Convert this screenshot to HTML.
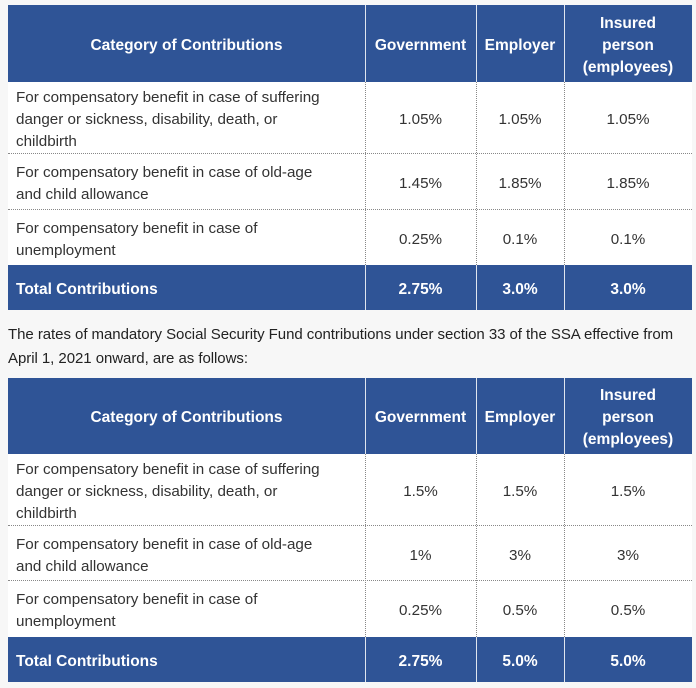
<!DOCTYPE html>
<html><head><meta charset="utf-8">
<style>
html,body{margin:0;padding:0;}
body{width:696px;height:688px;background:#f7f7f7;position:relative;overflow:hidden;font-family:"Liberation Sans",Arial,sans-serif;color:#333;}
.c{position:absolute;display:flex;align-items:center;justify-content:center;text-align:center;box-sizing:border-box;font-size:15px;line-height:22px;padding-top:4px;}
.h{background:#2f5496;color:#fff;font-weight:bold;font-size:15.5px;}
.b{background:#fff;color:#333;font-size:15.2px;}
.l{justify-content:flex-start;text-align:left;padding-left:8px;}
.vs{position:absolute;width:1px;background:#dfe5ef;}
.vd{position:absolute;width:0;border-left:1px dotted #888;}
.hd{position:absolute;height:0;border-top:1px dotted #888;}
p{position:absolute;left:8px;top:323px;margin:0;font-size:15px;line-height:24px;color:#222;width:684px;letter-spacing:-0.05px;}
</style></head><body>

<!-- Table 1 -->
<div class="c h" style="left:8px;top:5px;width:357px;height:77px;">Category of Contributions</div>
<div class="c h" style="left:365px;top:5px;width:111px;height:77px;">Government</div>
<div class="c h" style="left:476px;top:5px;width:88px;height:77px;">Employer</div>
<div class="c h" style="left:564px;top:5px;width:128px;height:77px;">Insured<br>person<br>(employees)</div>

<div class="c b l" style="left:8px;top:82px;width:357px;height:72px;">For compensatory benefit in case of suffering<br>danger or sickness, disability, death, or<br>childbirth</div>
<div class="c b" style="left:365px;top:82px;width:111px;height:72px;">1.05%</div>
<div class="c b" style="left:476px;top:82px;width:88px;height:72px;">1.05%</div>
<div class="c b" style="left:564px;top:82px;width:128px;height:72px;">1.05%</div>

<div class="c b l" style="left:8px;top:154px;width:357px;height:56px;">For compensatory benefit in case of old-age<br>and child allowance</div>
<div class="c b" style="left:365px;top:154px;width:111px;height:56px;">1.45%</div>
<div class="c b" style="left:476px;top:154px;width:88px;height:56px;">1.85%</div>
<div class="c b" style="left:564px;top:154px;width:128px;height:56px;">1.85%</div>

<div class="c b l" style="left:8px;top:210px;width:357px;height:55px;">For compensatory benefit in case of<br>unemployment</div>
<div class="c b" style="left:365px;top:210px;width:111px;height:55px;">0.25%</div>
<div class="c b" style="left:476px;top:210px;width:88px;height:55px;">0.1%</div>
<div class="c b" style="left:564px;top:210px;width:128px;height:55px;">0.1%</div>

<div class="c h l" style="left:8px;top:265px;width:357px;height:45px;">Total Contributions</div>
<div class="c h" style="left:365px;top:265px;width:111px;height:45px;">2.75%</div>
<div class="c h" style="left:476px;top:265px;width:88px;height:45px;">3.0%</div>
<div class="c h" style="left:564px;top:265px;width:128px;height:45px;">3.0%</div>

<div class="hd" style="left:8px;top:153px;width:684px;"></div>
<div class="hd" style="left:8px;top:209px;width:684px;"></div>
<div class="vd" style="left:365px;top:82px;height:183px;"></div>
<div class="vd" style="left:476px;top:82px;height:183px;"></div>
<div class="vd" style="left:564px;top:82px;height:183px;"></div>
<div class="vs" style="left:365px;top:5px;height:77px;"></div>
<div class="vs" style="left:476px;top:5px;height:77px;"></div>
<div class="vs" style="left:564px;top:5px;height:77px;"></div>
<div class="vs" style="left:365px;top:265px;height:45px;"></div>
<div class="vs" style="left:476px;top:265px;height:45px;"></div>
<div class="vs" style="left:564px;top:265px;height:45px;"></div>

<p>The rates of mandatory Social Security Fund contributions under section 33 of the SSA effective from<br>April 1, 2021 onward, are as follows:</p>

<!-- Table 2 -->
<div class="c h" style="left:8px;top:378px;width:357px;height:76px;">Category of Contributions</div>
<div class="c h" style="left:365px;top:378px;width:111px;height:76px;">Government</div>
<div class="c h" style="left:476px;top:378px;width:88px;height:76px;">Employer</div>
<div class="c h" style="left:564px;top:378px;width:128px;height:76px;">Insured<br>person<br>(employees)</div>

<div class="c b l" style="left:8px;top:454px;width:357px;height:72px;">For compensatory benefit in case of suffering<br>danger or sickness, disability, death, or<br>childbirth</div>
<div class="c b" style="left:365px;top:454px;width:111px;height:72px;">1.5%</div>
<div class="c b" style="left:476px;top:454px;width:88px;height:72px;">1.5%</div>
<div class="c b" style="left:564px;top:454px;width:128px;height:72px;">1.5%</div>

<div class="c b l" style="left:8px;top:526px;width:357px;height:55px;">For compensatory benefit in case of old-age<br>and child allowance</div>
<div class="c b" style="left:365px;top:526px;width:111px;height:55px;">1%</div>
<div class="c b" style="left:476px;top:526px;width:88px;height:55px;">3%</div>
<div class="c b" style="left:564px;top:526px;width:128px;height:55px;">3%</div>

<div class="c b l" style="left:8px;top:581px;width:357px;height:56px;">For compensatory benefit in case of<br>unemployment</div>
<div class="c b" style="left:365px;top:581px;width:111px;height:56px;">0.25%</div>
<div class="c b" style="left:476px;top:581px;width:88px;height:56px;">0.5%</div>
<div class="c b" style="left:564px;top:581px;width:128px;height:56px;">0.5%</div>

<div class="c h l" style="left:8px;top:637px;width:357px;height:45px;">Total Contributions</div>
<div class="c h" style="left:365px;top:637px;width:111px;height:45px;">2.75%</div>
<div class="c h" style="left:476px;top:637px;width:88px;height:45px;">5.0%</div>
<div class="c h" style="left:564px;top:637px;width:128px;height:45px;">5.0%</div>

<div class="hd" style="left:8px;top:525px;width:684px;"></div>
<div class="hd" style="left:8px;top:580px;width:684px;"></div>
<div class="vd" style="left:365px;top:454px;height:183px;"></div>
<div class="vd" style="left:476px;top:454px;height:183px;"></div>
<div class="vd" style="left:564px;top:454px;height:183px;"></div>
<div class="vs" style="left:365px;top:378px;height:76px;"></div>
<div class="vs" style="left:476px;top:378px;height:76px;"></div>
<div class="vs" style="left:564px;top:378px;height:76px;"></div>
<div class="vs" style="left:365px;top:637px;height:45px;"></div>
<div class="vs" style="left:476px;top:637px;height:45px;"></div>
<div class="vs" style="left:564px;top:637px;height:45px;"></div>

</body></html>
